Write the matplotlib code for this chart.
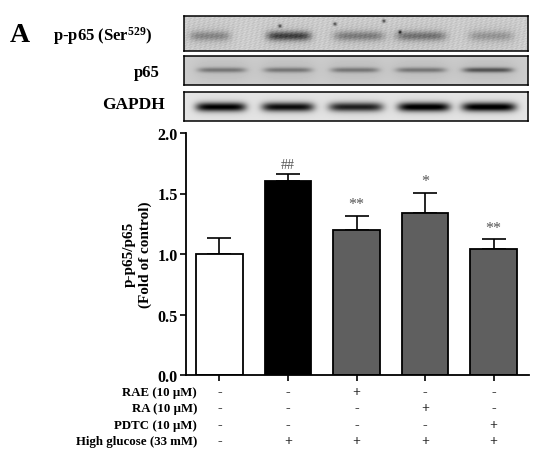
import matplotlib
matplotlib.use('Agg')
import matplotlib.pyplot as plt
import numpy as np

plt.rcParams['font.family'] = ['Liberation Serif', 'DejaVu Serif']
plt.rcParams['font.weight'] = 'bold'
plt.rcParams['mathtext.fontset'] = 'custom'
plt.rcParams['mathtext.rm'] = 'Liberation Serif:bold'
plt.rcParams['mathtext.default'] = 'rm'

W, H = 550, 460

# bar data
means = [1.0, 1.6, 1.2, 1.34, 1.04]
errors = [0.135, 0.06, 0.115, 0.165, 0.08]
bar_colors = ['white', 'black', '#5f5f5f', '#5f5f5f', '#5f5f5f']
marks = ['', '##', '**', '*', '**']

# treatment table
row_labels = ['RAE (10 µM)', 'RA (10 µM)', 'PDTC (10 µM)', 'High glucose (33 mM)']
row_signs = [['-', '-', '+', '-', '-'],
             ['-', '-', '-', '+', '-'],
             ['-', '-', '-', '-', '+'],
             ['-', '+', '+', '+', '+']]
row_y = [393, 409, 426, 442]

# blots: frame top/bottom, background grey, band centres/half widths/darkness
blot_top = [17, 57, 93]
blot_bottom = [52, 86, 122]
blot_bg = [0.80, 0.80, 0.90]
blot_bandy = [37, 71, 108]
blot_bandh = [4.5, 2.5, 4.5]
blot_centers = [[210, 289, 359, 421, 491],
                [222, 288, 355, 421, 488],
                [221, 288, 356, 424, 489]]
blot_halfw = [[20, 22, 25, 25, 22],
              [24, 24, 24, 25, 25],
              [25, 26, 27, 26, 27]]
blot_dark = [[0.22, 0.5, 0.26, 0.3, 0.16],
             [0.28, 0.28, 0.28, 0.28, 0.42],
             [0.85, 0.8, 0.72, 0.88, 0.88]]
speck_x = [280, 335, 384, 400]
speck_y = [27, 25, 22, 33]


def px_axes(fig, left, top, right, bottom):
    return fig.add_axes([left / W, 1 - bottom / H, (right - left) / W, (bottom - top) / H])


def draw_blot(fig, i):
    left, right = 184, 528
    ax = px_axes(fig, left, blot_top[i], right, blot_bottom[i])
    xs = np.arange(left, right) + 0.5
    ys = np.arange(blot_top[i], blot_bottom[i]) + 0.5
    X, Y = np.meshgrid(xs, ys)
    img = np.full(X.shape, blot_bg[i])
    for c, hw, d in zip(blot_centers[i], blot_halfw[i], blot_dark[i]):
        img -= d * np.exp(-((X - c) / hw) ** 6) * np.exp(-((Y - blot_bandy[i]) / blot_bandh[i]) ** 2)
        img -= 0.06 * np.exp(-((X - c) / (hw * 1.2)) ** 4) * np.exp(-((Y - blot_bandy[i]) / 11.0) ** 2)
    if i == 0:
        # mottled membrane look of the top blot
        img += 0.035 * np.sin(X * 0.9 + Y * 1.3) * np.sin(X * 0.37 - Y * 1.1)
        img += 0.025 * np.sin(X * 1.7 - Y * 0.8) * np.cos(X * 0.23 + Y * 2.1)
        for sx, sy in zip(speck_x, speck_y):
            img -= 0.5 * np.exp(-((X - sx) ** 2 + (Y - sy) ** 2) / 3.0)
    ax.imshow(np.clip(img, 0, 1), cmap='gray', vmin=0, vmax=1, aspect='auto', interpolation='bilinear')
    ax.set_xticks([])
    ax.set_yticks([])
    for s in ax.spines.values():
        s.set_linewidth(1.1)


fig = plt.figure(figsize=(W / 100, H / 100), dpi=100)

for i in range(3):
    draw_blot(fig, i)

fig.text(10 / W, 1 - 35 / H, 'A', fontsize=20, ha='left', va='center')
fig.text(53 / W, 1 - 36 / H, 'p-p65 (Ser$^{529}$)', fontsize=12, ha='left', va='center')
fig.text(160 / W, 1 - 73 / H, 'p65', fontsize=12, ha='right', va='center')
fig.text(165 / W, 1 - 105 / H, 'GAPDH', fontsize=12.5, ha='right', va='center')

# bar chart
ax = px_axes(fig, 186, 134, 529, 376)
x = np.arange(len(means))
ax.bar(x, means, width=0.672, color=bar_colors, edgecolor='black', linewidth=1.3, zorder=2)
ax.errorbar(x, means, yerr=[np.zeros(len(errors)), errors], fmt='none', ecolor='black',
            elinewidth=1.2, capsize=8.4, capthick=1.2, zorder=1)
ax.set_xlim(-0.489, 4.518)
ax.set_ylim(0, 2.0)
ax.set_yticks([0, 0.5, 1.0, 1.5, 2.0])
ax.set_yticklabels(['0.0', '0.5', '1.0', '1.5', '2.0'], fontsize=11.6)
ax.set_xticks(x)
ax.set_xticklabels([])
ax.tick_params(axis='both', width=1.2, length=4.5, pad=1.5)
ax.spines['top'].set_visible(False)
ax.spines['right'].set_visible(False)
ax.spines['left'].set_linewidth(1.3)
ax.spines['bottom'].set_linewidth(1.3)
ax.patch.set_alpha(0)

for xi, m, e, t in zip(x, means, errors, marks):
    if t:
        ax.annotate(t, (xi, m + e), xytext=(0, 2 if t == '##' else 2.5), textcoords='offset points',
                    ha='center', va='bottom', fontsize=10 if t == '##' else 11.5,
                    fontweight='normal', color='#555555')

fig.text(129 / W, 1 - 254.5 / H, 'p-p65/p65', rotation=90, fontsize=11, ha='center', va='center')
fig.text(145 / W, 1 - 254.5 / H, '(Fold of control)', rotation=90, fontsize=11, ha='center', va='center')

# treatment rows under the axis
for label, signs, y in zip(row_labels, row_signs, row_y):
    fig.text(197 / W, 1 - y / H, label, fontsize=9.3, ha='right', va='center')
    for xi, s in zip(x, signs):
        fig.text(ax.transData.transform((xi, 0))[0] / W, 1 - y / H, s, fontsize=10, ha='center',
                 va='center', color='#222222')

fig.savefig('out.png', dpi=100)
